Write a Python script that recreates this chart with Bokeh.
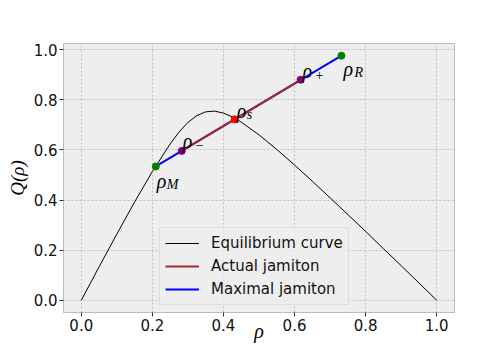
from bokeh.plotting import figure
from bokeh.models import (Range1d, FixedTicker, Legend, LegendItem, ColumnDataSource,
                          PrintfTickFormatter)
from bokeh.core.properties import value
from bokeh.embed import file_html
from bokeh.resources import INLINE

# Equilibrium curve
rho_curve = [0.0, 0.05, 0.10, 0.15, 0.20, 0.25, 0.275, 0.30, 0.325, 0.35, 0.375,
             0.40, 0.425, 0.45, 0.50, 0.55, 0.60, 0.65, 0.70, 0.75, 0.80, 0.85,
             0.90, 0.95, 1.0]
q_curve = [0.0, 0.133, 0.264, 0.392, 0.514, 0.624, 0.671, 0.710, 0.737, 0.752, 0.755,
           0.747, 0.732, 0.711, 0.660, 0.602, 0.540, 0.475, 0.409, 0.342, 0.275, 0.206,
           0.138, 0.069, 0.0]

# Special densities
pt_names = ["M", "-", "s", "+", "R"]
pt_rho = [0.2096, 0.2826, 0.4315, 0.617, 0.732]
pt_q = [0.534, 0.596, 0.722, 0.880, 0.976]
pt_colors = ["green", "purple", "red", "purple", "green"]

# Jamiton segments
actual_rho = [pt_rho[1], pt_rho[3]]
actual_q = [pt_q[1], pt_q[3]]
maximal_rho = [pt_rho[0], pt_rho[4]]
maximal_q = [pt_q[0], pt_q[4]]

x_ticks = [0.0, 0.2, 0.4, 0.6, 0.8, 1.0]
y_ticks = [0.0, 0.2, 0.4, 0.6, 0.8, 1.0]

p = figure(frame_width=391, frame_height=269, output_backend="svg", toolbar_location=None,
           x_range=Range1d(-0.05, 1.05), y_range=Range1d(-0.0488, 1.0248),
           min_border_left=63, min_border_right=34, min_border_top=43, min_border_bottom=32)

p.background_fill_color = "#eeeeee"
p.border_fill_color = "white"
p.outline_line_color = "#bcbcbc"
p.outline_line_width = 1

for ax in (p.xaxis[0], p.yaxis[0]):
    ax.axis_line_color = "#bcbcbc"
    ax.major_tick_out = 4
    ax.major_tick_in = 0
    ax.minor_tick_out = 0
    ax.minor_tick_in = 0
    ax.major_tick_line_color = "#333333"
    ax.major_label_text_font = "DejaVu Sans"
    ax.major_label_text_font_size = "15px"
    ax.major_label_text_color = "#111111"
    ax.major_label_standoff = 2
    ax.formatter = PrintfTickFormatter(format="%.1f")
    ax.axis_label_text_font = "Liberation Serif"
    ax.axis_label_text_font_style = "italic"
    ax.axis_label_text_color = "black"

p.xaxis.ticker = FixedTicker(ticks=x_ticks)
p.yaxis.ticker = FixedTicker(ticks=y_ticks)
p.xaxis.axis_label = "ρ"
p.yaxis.axis_label = "Q(ρ)"
p.xaxis.axis_label_text_font_size = "20px"
p.yaxis.axis_label_text_font_size = "19px"
p.xaxis.axis_label_standoff = -14
p.yaxis.axis_label_standoff = 3

p.grid.grid_line_color = "#b2b2b2"
p.grid.grid_line_dash = "2 2"
p.grid.grid_line_width = 0.8

r_eq = p.line(rho_curve, q_curve, line_color="black", line_width=1)
r_max = p.line(maximal_rho, maximal_q, line_color="blue", line_width=2)
r_act = p.line(actual_rho, actual_q, line_color="brown", line_width=2)
p.scatter(pt_rho, pt_q, color=pt_colors, size=7)

# point labels (offsets in pixels, positive = down)
lab_main_dy = [14.5, -9.5, -8.5, -8.5, 13.0]
lab_main_dx = [1, 1, 2, 2, 2]
lab_sub = ["M", "−", "s", "+", "R"]
lab_sub_dx = [11, 14, 12, 15, 13]
lab_sub_dy = [18, -6, -5, -4.5, 17]
lab_sub_style = ["italic", "normal", "italic", "normal", "italic"]

src = ColumnDataSource(dict(x=pt_rho, y=pt_q, main=["ρ"] * 5, sub=lab_sub,
                            mdx=lab_main_dx, mdy=lab_main_dy, sdx=lab_sub_dx,
                            sdy=lab_sub_dy, sstyle=lab_sub_style))
p.text(x="x", y="y", text="main", x_offset="mdx", y_offset="mdy", source=src,
       text_font=value("Liberation Serif"), text_font_style="italic",
       text_font_size="20px", text_baseline="alphabetic", text_color="black")
p.text(x="x", y="y", text="sub", x_offset="sdx", y_offset="sdy", source=src,
       text_font=value("Liberation Serif"), text_font_style="sstyle",
       text_font_size="14px", text_baseline="alphabetic", text_color="black")

legend = Legend(items=[LegendItem(label="Equilibrium curve", renderers=[r_eq]),
                       LegendItem(label="Actual jamiton", renderers=[r_act]),
                       LegendItem(label="Maximal jamiton", renderers=[r_max])],
                location=(96, 7))
legend.label_text_font = "DejaVu Sans"
legend.label_text_font_size = "15px"
legend.label_text_color = "#111111"
legend.glyph_width = 34
legend.glyph_height = 20
legend.label_height = 20
legend.label_standoff = 12
legend.spacing = 3
legend.padding = 5
legend.margin = 0
legend.background_fill_color = "#eeeeee"
legend.background_fill_alpha = 0.8
legend.border_line_color = "#cccccc"
legend.border_line_width = 1
p.add_layout(legend, "center")

open("out.html", "w").write(file_html(p, INLINE))
